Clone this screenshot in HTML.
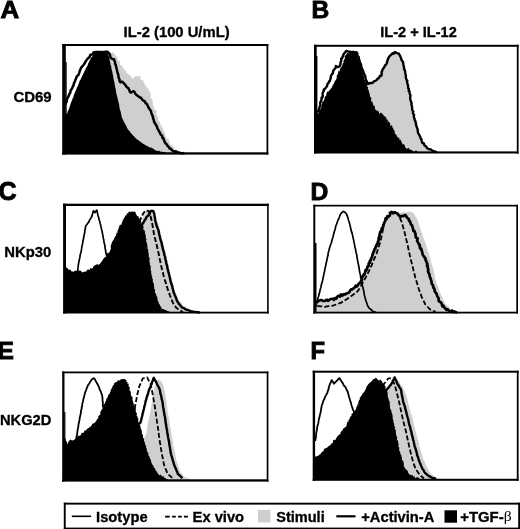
<!DOCTYPE html>
<html><head><meta charset="utf-8"><title>Figure</title>
<style>html,body{margin:0;padding:0;background:#fff;}svg{display:block;}</style></head>
<body>
<svg width="520" height="529" viewBox="0 0 520 529">
<rect width="520" height="529" fill="#fff"/>
<path d="M66.0,115.0 L66.4,114.3 L67.5,113.1 L67.3,112.5 L67.2,111.4 L68.3,111.3 L67.9,108.9 L68.3,109.6 L69.7,106.2 L70.6,108.2 L70.5,106.2 L70.1,103.3 L71.2,102.6 L71.0,102.2 L71.2,102.0 L72.3,102.3 L72.9,100.7 L73.2,99.9 L73.6,97.7 L74.9,99.1 L75.1,97.3 L74.7,94.8 L75.0,93.4 L76.2,93.5 L76.8,92.6 L77.4,93.1 L76.3,90.2 L78.2,90.1 L78.7,88.9 L77.7,88.8 L79.2,86.7 L78.6,86.0 L80.4,86.4 L79.5,83.9 L79.9,82.3 L81.4,81.8 L81.4,81.7 L81.3,81.7 L81.6,80.5 L82.0,78.9 L82.6,77.5 L84.2,78.3 L83.6,77.6 L83.9,75.1 L85.3,75.0 L84.6,75.2 L85.2,71.9 L86.5,71.3 L86.1,69.5 L86.2,70.2 L86.9,69.4 L87.5,68.0 L88.9,67.2 L88.7,67.5 L88.5,64.3 L90.1,65.5 L89.5,62.5 L90.7,64.0 L90.2,63.1 L91.8,61.1 L91.5,58.6 L91.3,60.4 L92.0,58.7 L92.5,58.1 L93.4,55.5 L93.2,56.0 L93.5,53.5 L94.7,54.5 L95.2,51.8 L96.7,51.5 L96.2,51.7 L97.9,51.0 L98.5,51.9 L100.1,51.2 L100.8,53.6 L102.8,52.8 L103.3,52.5 L103.4,50.7 L104.2,53.5 L106.3,53.6 L106.2,52.5 L108.0,52.8 L108.7,53.6 L109.3,52.1 L111.6,53.0 L112.9,52.2 L114.5,53.8 L114.3,54.0 L115.8,55.5 L115.6,56.1 L116.9,56.3 L117.1,56.6 L117.6,58.2 L117.3,59.2 L119.3,61.0 L119.4,60.4 L119.9,62.1 L119.9,63.9 L119.8,64.6 L120.2,65.1 L121.5,64.9 L122.5,66.7 L123.1,69.0 L123.2,67.0 L124.0,70.1 L124.5,69.3 L126.4,71.7 L126.4,73.2 L127.0,73.2 L127.6,73.2 L129.3,75.6 L130.2,74.6 L130.6,75.3 L130.7,76.7 L132.7,78.7 L133.3,79.8 L133.6,76.8 L134.8,76.6 L135.4,76.4 L137.0,76.1 L137.4,76.7 L139.1,76.2 L138.3,75.7 L140.3,76.5 L140.7,79.0 L140.7,80.5 L141.0,79.4 L142.4,79.9 L143.7,81.5 L143.3,81.8 L144.8,84.0 L145.4,85.5 L146.2,87.4 L146.6,85.8 L146.9,86.6 L146.7,88.4 L148.4,88.3 L148.3,89.7 L149.5,91.1 L149.7,92.8 L149.6,93.9 L150.7,92.6 L151.1,95.6 L150.1,95.8 L151.2,98.2 L151.1,98.1 L152.2,99.9 L152.6,99.8 L152.4,100.0 L152.8,103.0 L153.0,103.7 L152.6,105.3 L154.1,106.5 L153.7,106.9 L153.7,108.3 L154.9,107.4 L154.0,108.7 L155.1,110.7 L155.3,109.3 L156.2,110.4 L156.6,111.7 L156.2,114.6 L156.2,113.5 L157.2,116.3 L158.0,117.2 L158.6,117.5 L158.9,117.2 L158.1,119.5 L158.6,121.1 L159.5,121.4 L160.2,122.4 L159.8,122.8 L161.0,125.4 L160.4,126.2 L161.9,126.0 L161.7,125.9 L162.0,127.8 L162.5,127.3 L163.5,129.8 L163.0,131.6 L163.7,131.5 L164.4,131.0 L164.6,133.1 L165.7,135.6 L165.0,135.1 L165.3,135.9 L166.8,138.3 L166.7,137.3 L166.7,139.2 L168.5,138.5 L168.8,139.0 L168.4,140.5 L169.8,141.6 L169.8,143.4 L170.0,144.6 L170.6,144.8 L171.4,144.6 L172.6,146.3 L173.1,147.1 L174.1,147.1 L174.3,149.5 L175.8,150.0 L176.9,151.2 L177.8,150.3 L178.6,152.5 L179.8,151.3 L179.8,153.6 L180.6,154.1 L182.6,151.7 L182.6,153.7 L183.6,151.8 L185.5,152.9 L186.0,153.3 L186.0,153.5 L66.0,153.5 Z" fill="#cfcfcf"/>
<path d="M65.0,113.5 L67.3,113.6 L67.8,112.0 L67.9,111.0 L68.5,110.2 L69.1,108.9 L69.4,107.7 L69.7,106.4 L70.1,105.6 L70.5,104.3 L70.9,103.0 L71.5,101.6 L72.1,100.1 L72.3,99.6 L72.9,97.8 L73.5,97.3 L73.6,95.6 L74.1,94.4 L74.7,93.0 L75.2,91.7 L75.5,91.2 L76.1,89.7 L76.6,88.5 L77.1,87.0 L77.7,86.6 L78.3,85.1 L78.5,83.7 L79.2,82.8 L79.4,81.3 L80.0,80.3 L80.8,79.2 L81.1,78.3 L81.8,76.9 L82.3,75.7 L82.9,74.8 L83.4,73.5 L84.0,72.5 L84.5,71.0 L85.2,70.1 L85.6,68.7 L86.3,67.4 L86.9,66.7 L87.5,65.4 L87.9,64.2 L88.6,62.4 L89.3,61.7 L89.6,60.2 L90.5,59.2 L90.9,57.8 L91.4,57.3 L92.4,56.5 L93.0,54.6 L93.7,54.0 L94.6,52.7 L96.4,51.3 L97.7,51.4 L98.8,51.7 L100.3,51.0 L101.3,51.6 L102.5,51.7 L103.8,51.5 L105.1,51.1 L106.2,51.1 L107.6,51.5 L107.7,52.8 L108.1,53.5 L108.4,55.3 L108.8,56.2 L109.2,57.6 L109.4,58.4 L109.6,60.0 L109.9,60.9 L110.0,61.9 L110.4,63.2 L110.4,64.5 L111.0,65.8 L111.3,67.0 L111.4,68.2 L111.6,69.0 L111.9,70.5 L112.4,72.1 L112.6,73.4 L112.7,74.6 L113.2,75.8 L113.3,77.1 L113.5,78.6 L113.7,79.3 L114.0,81.0 L114.4,82.2 L114.7,83.1 L114.5,84.5 L114.9,85.4 L115.2,86.8 L115.3,88.0 L115.8,88.9 L115.8,90.3 L116.0,91.6 L116.3,93.2 L116.6,94.2 L116.7,95.2 L117.2,96.6 L117.3,97.5 L117.8,99.0 L117.8,99.9 L118.3,101.0 L118.5,102.4 L118.9,103.5 L119.0,104.5 L119.3,105.6 L119.4,106.9 L119.6,107.9 L119.8,109.4 L120.1,110.1 L120.6,111.6 L121.0,113.1 L121.1,114.5 L121.6,115.4 L121.6,116.9 L122.1,118.1 L122.7,119.2 L123.3,120.3 L123.8,121.7 L124.5,122.9 L125.2,123.8 L125.6,125.0 L126.5,126.3 L126.7,127.6 L127.6,128.7 L128.0,129.7 L128.9,130.2 L130.0,131.8 L130.6,132.8 L131.4,133.4 L132.2,134.3 L133.1,135.7 L134.1,136.3 L134.9,137.4 L136.1,138.5 L136.8,139.3 L138.0,139.9 L139.0,140.8 L140.1,141.4 L141.1,142.2 L142.1,142.9 L143.0,143.7 L144.1,144.3 L145.3,145.1 L146.4,145.8 L147.6,146.3 L148.5,146.7 L149.7,147.5 L151.0,147.6 L151.8,148.1 L153.0,148.6 L154.1,149.3 L155.2,150.2 L156.7,150.8 L158.0,151.0 L159.3,150.7 L160.2,151.8 L161.5,151.5 L162.9,152.0 L164.0,152.3 L165.1,152.1 L166.4,152.9 L167.8,152.9 L169.0,152.6 L169.9,153.1 L171.2,153.0 L172.2,152.7 L173.6,153.2 L174.9,153.3 L176.0,153.2 L176.0,153.5 L65.0,153.5 Z" fill="#000"/>
<path d="M65.5,104.5 L65.8,103.2 L66.6,101.9 L66.9,99.5 L67.5,98.0 L68.5,96.4 L69.0,95.0 L69.5,93.8 L70.4,92.5 L70.5,90.6 L71.2,89.8 L72.2,88.2 L72.8,86.6 L73.6,85.0 L73.9,83.4 L74.8,81.5 L75.6,79.4 L76.3,77.9 L77.0,76.0 L78.1,75.4 L78.9,73.7 L79.4,72.3 L79.9,70.7 L80.8,68.5 L81.4,67.4 L82.5,66.1 L83.7,64.7 L84.5,63.6 L85.3,62.0 L86.0,60.8 L86.7,59.9 L88.0,58.3 L89.3,57.4 L90.4,54.8 L92.4,54.4 L93.8,52.2 L95.9,52.1 L97.9,52.0 L99.0,52.1 L100.8,51.9 L102.2,52.2 L104.1,51.9 L105.5,51.8 L107.4,51.7 L109.5,53.8 L110.0,54.9 L110.4,57.0 L110.8,58.0 L112.3,58.9 L114.1,59.2 L114.3,60.5 L114.9,61.6 L115.2,64.3 L115.7,64.9 L116.2,66.8 L116.5,68.2 L117.0,70.1 L117.1,71.0 L117.7,73.3 L118.1,74.2 L118.5,75.4 L118.4,77.2 L119.5,79.3 L119.5,81.0 L120.4,82.2 L122.1,81.6 L123.2,82.7 L124.5,84.0 L125.7,85.3 L126.7,87.2 L128.0,87.8 L129.1,89.5 L129.8,91.5 L130.7,92.6 L132.2,91.8 L133.8,91.2 L134.8,92.5 L135.4,93.9 L136.2,94.7 L137.9,95.9 L139.7,97.4 L140.7,97.5 L142.0,99.2 L143.3,100.7 L144.6,101.0 L145.5,102.9 L147.2,104.5 L147.9,106.2 L148.8,108.1 L149.7,109.3 L150.9,111.0 L151.3,112.6 L151.7,113.7 L152.3,115.7 L153.0,116.4 L153.0,118.5 L153.9,120.1 L154.1,122.3 L154.9,122.8 L155.5,124.3 L156.7,126.0 L157.5,128.6 L158.5,130.1 L158.9,131.2 L159.9,132.6 L160.3,134.0 L160.9,134.7 L162.3,136.2 L162.5,138.0 L163.4,138.3 L163.9,140.0 L164.8,142.2 L165.5,143.4 L166.7,144.2 L167.5,145.9 L168.3,146.4 L169.5,148.4 L170.7,148.6 L171.7,150.1 L173.0,150.8 L174.3,151.7 L175.9,151.3 L177.6,152.1 L179.5,152.6 L180.9,153.2 L182.4,153.2 L184.3,153.1" fill="none" stroke="#000" stroke-width="2.5" stroke-linejoin="round"/>
<rect x="65.5" y="62" width="1.2" height="52" fill="#000"/>
<rect x="62.2" y="44" width="3.60" height="110.60" fill="#000"/>
<rect x="266.5" y="44" width="1.80" height="110.60" fill="#000"/>
<rect x="62.2" y="44" width="206.10" height="2.00" fill="#000"/>
<rect x="62.2" y="152.3" width="206.10" height="2.30" fill="#000"/>
<path d="M317.2,112.0 L318.5,110.8 L319.3,108.9 L319.3,107.9 L320.1,106.0 L320.3,104.0 L320.2,102.7 L321.1,100.7 L321.6,99.5 L321.5,97.6 L322.5,97.2 L322.8,95.5 L322.5,93.6 L323.2,91.7 L324.0,90.6 L323.7,89.8 L324.7,89.0 L326.0,87.4 L327.0,86.3 L327.4,84.1 L328.6,82.9 L329.1,81.3 L329.9,80.9 L330.3,79.2 L330.8,77.6 L331.0,75.7 L332.2,73.8 L332.9,73.3 L333.1,71.0 L334.2,69.5 L335.6,68.0 L335.8,66.0 L338.3,67.1 L340.0,65.9 L340.4,64.6 L340.5,62.7 L341.2,61.0 L341.2,58.6 L342.1,58.3 L342.9,56.3 L343.6,54.0 L344.2,53.6 L346.2,51.0 L348.0,51.4 L350.1,51.7 L351.3,52.3 L353.4,52.1 L355.1,52.2 L356.4,52.1 L357.3,53.3 L357.2,55.7 L358.2,56.5 L358.8,57.2 L358.8,58.9 L359.4,60.1 L359.7,61.7 L360.8,64.1 L361.1,64.6 L361.1,66.7 L361.8,67.7 L361.8,68.2 L362.9,70.5 L363.4,71.5 L363.5,72.8 L364.3,73.7 L364.5,75.0 L365.2,75.8 L365.6,78.7 L365.6,79.4 L366.6,81.1 L367.0,81.5 L367.3,83.9 L368.2,83.9 L369.2,83.2 L370.7,83.0 L372.4,83.0 L374.2,81.1 L375.5,80.8 L376.8,80.0 L377.6,78.6 L378.8,78.1 L380.0,75.8 L381.2,75.8 L381.7,74.1 L381.6,72.0 L382.2,70.9 L382.7,69.2 L383.9,67.8 L385.0,65.4 L386.1,64.5 L386.9,63.0 L387.0,62.0 L387.8,59.8 L387.9,59.0 L388.4,58.2 L389.1,56.8 L390.3,55.5 L391.0,54.9 L392.8,53.2 L393.7,53.8 L394.9,52.0 L396.3,52.8 L397.8,53.3 L398.8,53.6 L399.8,55.3 L400.3,56.5 L400.9,57.5 L401.2,59.1 L402.0,60.8 L403.1,62.1 L403.1,62.8 L403.4,64.8 L404.0,67.1 L403.9,67.9 L404.5,69.8 L405.2,71.4 L405.3,72.9 L405.6,74.5 L405.9,75.7 L405.8,77.6 L406.2,78.6 L406.9,80.7 L407.3,80.6 L407.1,82.6 L407.5,83.8 L408.0,85.2 L408.2,88.1 L408.9,88.8 L408.7,91.0 L409.6,91.3 L409.5,93.4 L410.0,94.2 L410.5,95.7 L410.1,97.9 L410.3,99.0 L410.6,100.3 L410.9,101.3 L411.6,102.9 L411.4,104.5 L411.6,105.2 L412.0,106.7 L412.2,109.2 L412.3,110.3 L413.3,111.5 L412.9,112.6 L413.2,114.1 L414.1,114.9 L413.8,116.8 L414.2,117.9 L414.9,120.3 L415.2,120.6 L415.9,123.2 L416.0,123.4 L416.1,125.5 L416.7,126.7 L417.4,129.0 L417.9,130.5 L417.7,131.4 L418.2,133.3 L419.1,134.4 L419.2,134.7 L420.3,137.0 L420.7,138.3 L421.5,139.5 L421.7,141.0 L422.3,142.9 L423.9,143.3 L424.3,145.3 L425.8,146.1 L426.5,147.2 L427.6,148.5 L429.4,149.4 L430.3,149.1 L432.2,150.5 L433.5,151.3 L435.5,151.7 L437.0,152.3 L437.0,152.5 L317.2,152.5 Z" fill="#cfcfcf"/>
<path d="M317.2,112.0 L318.5,110.8 L319.3,108.9 L319.3,107.9 L320.1,106.0 L320.3,104.0 L320.2,102.7 L321.1,100.7 L321.6,99.5 L321.5,97.6 L322.5,97.2 L322.8,95.5 L322.5,93.6 L323.2,91.7 L324.0,90.6 L323.7,89.8 L324.7,89.0 L326.0,87.4 L327.0,86.3 L327.4,84.1 L328.6,82.9 L329.1,81.3 L329.9,80.9 L330.3,79.2 L330.8,77.6 L331.0,75.7 L332.2,73.8 L332.9,73.3 L333.1,71.0 L334.2,69.5 L335.6,68.0 L335.8,66.0 L338.3,67.1 L340.0,65.9 L340.4,64.6 L340.5,62.7 L341.2,61.0 L341.2,58.6 L342.1,58.3 L342.9,56.3 L343.6,54.0 L344.2,53.6 L346.2,51.0 L348.0,51.4 L350.1,51.7 L351.3,52.3 L351.3,152.5 L317.2,152.5 Z" fill="#fff"/>
<path d="M316.0,113.5 L318.0,112.6 L318.2,114.8 L318.8,111.3 L319.8,110.7 L320.4,109.2 L320.9,108.2 L320.8,108.6 L321.3,107.3 L321.7,103.9 L322.3,104.1 L322.0,101.8 L323.1,101.6 L323.7,101.0 L324.3,99.3 L324.5,98.3 L324.5,98.1 L325.2,96.5 L326.6,95.0 L326.1,94.4 L327.3,91.6 L327.4,91.6 L328.3,91.7 L329.8,89.7 L330.6,89.1 L332.1,87.3 L332.1,86.8 L332.6,85.6 L333.5,84.0 L334.3,83.1 L334.2,83.1 L335.0,80.4 L335.6,80.4 L336.8,78.0 L336.6,75.7 L337.7,74.6 L337.8,73.8 L338.1,72.6 L338.5,70.6 L339.5,71.4 L340.3,68.6 L341.0,67.0 L341.0,67.8 L342.2,65.7 L342.5,64.5 L342.6,63.5 L343.6,62.7 L343.4,61.5 L344.1,59.3 L344.7,59.3 L344.9,58.5 L344.6,56.1 L346.1,54.7 L346.3,54.6 L347.4,52.5 L348.1,53.8 L349.6,51.0 L350.6,50.9 L352.7,50.7 L353.1,50.6 L354.6,51.0 L355.6,52.4 L357.1,54.1 L356.7,54.3 L358.1,54.7 L357.5,57.3 L358.1,59.3 L358.9,59.9 L358.6,60.6 L358.9,61.6 L359.8,63.1 L360.5,65.6 L359.9,66.4 L361.0,66.5 L361.2,67.7 L362.0,68.9 L362.2,72.7 L362.9,72.0 L362.9,73.0 L363.1,76.1 L364.1,75.2 L364.0,78.0 L364.1,79.7 L365.5,80.2 L365.2,82.2 L365.8,81.8 L365.9,82.9 L367.1,85.0 L367.3,87.1 L368.1,86.7 L367.8,89.7 L368.7,89.7 L368.9,90.4 L368.7,91.3 L369.4,93.1 L370.0,96.3 L369.9,96.4 L371.3,97.8 L371.2,99.5 L371.0,101.3 L372.4,102.1 L373.1,101.4 L372.6,102.8 L373.7,105.9 L374.8,105.7 L374.9,107.8 L375.1,109.5 L376.4,110.1 L377.4,111.2 L378.1,110.8 L378.7,111.4 L379.4,114.1 L380.8,112.4 L381.8,113.3 L383.0,114.6 L383.7,115.6 L384.8,116.4 L386.1,117.3 L386.6,119.8 L388.0,119.5 L387.6,122.1 L388.9,121.2 L389.1,122.3 L390.1,123.1 L390.4,126.3 L392.1,125.1 L392.4,127.9 L393.0,127.2 L393.4,129.2 L394.7,130.9 L394.7,132.2 L394.8,133.5 L396.4,134.7 L396.4,134.8 L396.7,135.4 L397.6,137.4 L399.2,137.8 L399.5,139.9 L400.5,139.4 L401.6,141.9 L401.5,142.0 L402.9,144.7 L403.3,144.2 L404.5,144.5 L405.1,147.3 L406.2,147.9 L406.7,148.9 L408.6,147.7 L409.5,149.4 L410.8,149.7 L411.6,150.0 L413.0,151.2 L414.2,152.1 L415.7,150.6 L416.7,150.8 L418.0,152.2 L418.0,152.5 L316.0,152.5 Z" fill="#000"/>
<path d="M317.2,112.0 L318.5,110.8 L319.3,108.9 L319.3,107.9 L320.1,106.0 L320.3,104.0 L320.2,102.7 L321.1,100.7 L321.6,99.5 L321.5,97.6 L322.5,97.2 L322.8,95.5 L322.5,93.6 L323.2,91.7 L324.0,90.6 L323.7,89.8 L324.7,89.0 L326.0,87.4 L327.0,86.3 L327.4,84.1 L328.6,82.9 L329.1,81.3 L329.9,80.9 L330.3,79.2 L330.8,77.6 L331.0,75.7 L332.2,73.8 L332.9,73.3 L333.1,71.0 L334.2,69.5 L335.6,68.0 L335.8,66.0 L338.3,67.1 L340.0,65.9 L340.4,64.6 L340.5,62.7 L341.2,61.0 L341.2,58.6 L342.1,58.3 L342.9,56.3 L343.6,54.0 L344.2,53.6 L346.2,51.0 L348.0,51.4 L350.1,51.7 L351.3,52.3 L353.4,52.1 L355.1,52.2 L356.4,52.1 L357.3,53.3 L357.2,55.7 L358.2,56.5 L358.8,57.2 L358.8,58.9 L359.4,60.1 L359.7,61.7 L360.8,64.1 L361.1,64.6 L361.1,66.7 L361.8,67.7 L361.8,68.2 L362.9,70.5 L363.4,71.5 L363.5,72.8 L364.3,73.7 L364.5,75.0 L365.2,75.8 L365.6,78.7 L365.6,79.4 L366.6,81.1 L367.0,81.5 L367.3,83.9 L368.2,83.9 L369.2,83.2 L370.7,83.0 L372.4,83.0 L374.2,81.1 L375.5,80.8 L376.8,80.0 L377.6,78.6 L378.8,78.1 L380.0,75.8 L381.2,75.8 L381.7,74.1 L381.6,72.0 L382.2,70.9 L382.7,69.2 L383.9,67.8 L385.0,65.4 L386.1,64.5 L386.9,63.0 L387.0,62.0 L387.8,59.8 L387.9,59.0 L388.4,58.2 L389.1,56.8 L390.3,55.5 L391.0,54.9 L392.8,53.2 L393.7,53.8 L394.9,52.0 L396.3,52.8 L397.8,53.3 L398.8,53.6 L399.8,55.3 L400.3,56.5 L400.9,57.5 L401.2,59.1 L402.0,60.8 L403.1,62.1 L403.1,62.8 L403.4,64.8 L404.0,67.1 L403.9,67.9 L404.5,69.8 L405.2,71.4 L405.3,72.9 L405.6,74.5 L405.9,75.7 L405.8,77.6 L406.2,78.6 L406.9,80.7 L407.3,80.6 L407.1,82.6 L407.5,83.8 L408.0,85.2 L408.2,88.1 L408.9,88.8 L408.7,91.0 L409.6,91.3 L409.5,93.4 L410.0,94.2 L410.5,95.7 L410.1,97.9 L410.3,99.0 L410.6,100.3 L410.9,101.3 L411.6,102.9 L411.4,104.5 L411.6,105.2 L412.0,106.7 L412.2,109.2 L412.3,110.3 L413.3,111.5 L412.9,112.6 L413.2,114.1 L414.1,114.9 L413.8,116.8 L414.2,117.9 L414.9,120.3 L415.2,120.6 L415.9,123.2 L416.0,123.4 L416.1,125.5 L416.7,126.7 L417.4,129.0 L417.9,130.5 L417.7,131.4 L418.2,133.3 L419.1,134.4 L419.2,134.7 L420.3,137.0 L420.7,138.3 L421.5,139.5 L421.7,141.0 L422.3,142.9 L423.9,143.3 L424.3,145.3 L425.8,146.1 L426.5,147.2 L427.6,148.5 L429.4,149.4 L430.3,149.1 L432.2,150.5 L433.5,151.3 L435.5,151.7 L437.0,152.3" fill="none" stroke="#000" stroke-width="2.4" stroke-linejoin="round"/>
<rect x="316" y="56" width="1.4" height="58" fill="#000"/>
<rect x="314" y="44.8" width="2.70" height="108.70" fill="#000"/>
<rect x="516.8" y="44.8" width="1.80" height="108.70" fill="#000"/>
<rect x="314" y="44.8" width="204.60" height="2.00" fill="#000"/>
<rect x="314" y="151.4" width="204.60" height="2.10" fill="#000"/>
<path d="M139.0,222.0 L140.1,220.8 L141.5,220.6 L142.0,218.7 L142.7,218.1 L143.3,216.8 L144.2,214.9 L144.7,213.9 L145.4,213.5 L145.9,211.5 L147.0,210.9 L148.2,210.2 L149.8,210.3 L151.2,209.8 L152.7,210.3 L154.3,210.8 L154.4,211.4 L155.0,213.4 L154.9,214.4 L155.7,215.5 L155.7,216.9 L156.3,217.5 L156.6,218.7 L156.6,220.0 L157.1,221.2 L157.6,222.8 L158.2,224.1 L158.5,225.1 L158.5,225.7 L159.1,227.2 L159.4,227.9 L159.5,229.9 L160.1,230.9 L160.2,231.9 L160.9,233.4 L161.3,234.2 L161.3,236.1 L161.7,237.3 L162.0,237.9 L162.1,240.0 L162.5,240.4 L162.9,242.2 L163.5,243.2 L163.6,244.8 L163.8,245.6 L164.3,247.1 L164.4,247.9 L164.7,249.7 L165.3,251.2 L165.7,251.8 L166.0,253.7 L166.1,254.0 L166.4,255.5 L166.6,256.5 L166.8,258.5 L167.0,259.4 L167.3,260.2 L167.9,261.5 L167.9,262.9 L168.4,264.2 L168.7,265.3 L168.8,266.8 L169.0,268.0 L169.3,268.6 L169.4,270.5 L170.0,271.9 L170.3,272.8 L170.4,274.4 L170.7,275.2 L171.0,276.4 L171.4,277.7 L171.9,279.0 L172.0,280.5 L172.5,281.8 L172.5,282.8 L173.3,283.6 L173.3,285.3 L173.7,286.1 L174.3,287.2 L174.3,288.2 L174.7,289.9 L175.1,291.1 L175.3,291.7 L176.1,293.2 L176.6,294.9 L177.0,295.4 L177.5,297.0 L178.1,298.2 L178.6,299.0 L179.5,300.8 L180.2,301.9 L181.0,302.5 L181.9,303.3 L182.5,304.9 L183.2,305.4 L184.1,306.4 L185.2,307.0 L186.5,308.3 L187.6,308.6 L188.8,309.1 L189.8,309.8 L191.1,309.8 L192.3,310.7 L193.4,311.0 L194.5,311.6 L196.1,311.3 L197.5,312.0 L198.3,311.7 L199.7,312.7 L201.0,312.4 L201.0,312.6 L139.0,312.6 Z" fill="#cfcfcf"/>
<path d="M64.0,264.7 L64.1,264.1 L65.1,266.5 L66.0,267.0 L66.4,267.6 L67.9,268.5 L68.8,270.2 L69.0,269.4 L70.7,269.9 L71.3,271.3 L73.5,271.7 L75.0,270.7 L75.5,270.7 L77.7,270.7 L78.2,270.5 L79.3,270.6 L81.0,270.8 L82.2,272.4 L83.4,272.1 L85.2,271.6 L86.2,271.5 L87.4,269.8 L88.2,269.3 L89.4,270.2 L90.6,267.8 L91.8,268.7 L92.9,267.8 L93.7,265.9 L95.4,265.1 L96.1,265.1 L97.2,263.8 L98.1,264.9 L99.8,263.9 L100.5,263.0 L101.9,261.3 L102.5,260.2 L103.2,258.9 L104.6,257.6 L105.6,257.1 L106.2,256.5 L107.1,254.0 L107.5,252.6 L108.1,253.3 L109.4,252.2 L110.4,249.7 L110.9,249.6 L110.7,246.6 L110.8,245.4 L111.2,243.9 L111.8,244.4 L111.6,242.7 L112.7,240.9 L113.8,239.6 L114.4,237.7 L115.3,236.9 L114.8,237.1 L116.0,235.5 L116.5,233.8 L116.4,232.5 L117.7,232.7 L117.4,230.4 L118.2,230.2 L118.3,228.9 L119.1,227.2 L119.6,225.1 L120.9,224.8 L121.6,224.4 L122.0,221.6 L122.4,222.3 L122.9,219.3 L123.1,220.0 L124.5,217.3 L124.6,217.3 L125.5,215.3 L126.7,215.2 L126.9,213.0 L128.1,213.6 L128.8,211.4 L130.4,212.1 L131.4,211.5 L132.9,211.8 L133.7,211.6 L135.1,211.7 L135.7,213.1 L136.5,215.1 L137.3,216.3 L138.4,216.0 L138.5,217.6 L139.5,218.6 L139.8,219.8 L141.0,220.9 L141.2,223.1 L141.9,224.5 L142.9,223.8 L143.0,225.3 L143.6,227.1 L143.2,229.4 L144.2,230.0 L144.3,230.1 L145.0,231.8 L144.9,233.5 L145.2,233.8 L145.9,235.9 L145.7,237.9 L146.4,238.9 L146.6,239.4 L146.0,240.6 L146.7,242.8 L147.1,243.7 L147.2,245.0 L147.3,245.0 L147.5,246.8 L147.3,248.7 L148.2,249.3 L148.2,251.2 L148.4,252.9 L148.6,252.5 L148.7,254.2 L148.7,256.1 L148.6,257.2 L149.5,257.3 L149.6,259.8 L149.3,261.1 L149.1,261.1 L150.2,263.2 L149.6,263.5 L150.1,265.5 L150.8,266.1 L150.7,267.8 L150.8,270.1 L150.6,271.1 L151.4,271.2 L151.0,273.4 L151.9,273.9 L151.4,275.6 L152.2,276.4 L152.2,277.1 L152.2,278.6 L153.0,279.6 L152.7,281.5 L153.0,282.2 L153.8,283.4 L153.9,284.3 L154.1,286.8 L154.3,287.0 L154.1,288.3 L154.8,289.2 L155.0,291.2 L155.0,292.7 L156.2,293.9 L156.1,295.3 L156.9,296.7 L157.3,297.5 L157.6,298.7 L157.3,298.6 L157.8,300.9 L158.0,301.3 L158.4,301.7 L159.2,304.4 L159.6,304.0 L160.5,306.7 L160.9,305.9 L161.3,307.5 L161.9,309.2 L163.3,309.0 L164.7,309.8 L166.1,310.3 L167.4,310.9 L169.0,311.6 L170.0,312.3 L170.0,312.6 L64.0,312.6 Z" fill="#000"/>
<path d="M77.6,271.0 L77.8,269.3 L78.1,267.4 L78.2,266.0 L78.5,263.8 L78.8,262.5 L79.0,261.2 L79.4,259.3 L79.8,257.9 L80.0,256.2 L80.3,254.5 L80.7,253.3 L81.0,251.9 L81.4,250.1 L81.7,248.2 L81.8,247.1 L82.2,245.0 L82.7,243.7 L82.8,241.8 L83.2,240.1 L83.5,238.6 L83.8,236.9 L84.1,235.2 L84.3,234.1 L84.8,232.3 L84.9,230.5 L85.2,229.0 L85.5,227.4 L85.8,225.7 L86.9,224.5 L87.8,223.1 L88.8,222.1 L89.7,219.9 L90.7,218.4 L91.8,216.5 L92.2,215.0 L92.6,213.8 L92.9,212.6 L93.5,210.7 L95.0,212.6 L96.8,210.1 L97.3,212.2 L97.6,213.7 L98.0,215.4 L98.6,217.4 L98.9,218.5 L99.3,220.5 L99.8,221.7 L100.2,223.7 L100.7,225.0 L101.0,226.7 L101.4,228.3 L101.6,229.7 L102.1,231.2 L102.3,232.6 L102.6,234.2 L102.9,235.7 L103.1,236.8 L103.4,238.7 L103.8,240.0 L104.0,241.9 L104.3,243.5 L104.7,244.7 L105.0,246.3 L105.0,247.9 L105.3,249.4 L105.7,250.4 L105.7,251.8 L106.2,253.8 L106.4,254.8 L106.9,256.5" fill="none" stroke="#000" stroke-width="1.7" stroke-linejoin="round"/>
<path d="M141.8,225.0 L142.6,223.8 L143.4,222.7 L144.4,220.8 L145.5,219.3 L146.2,217.5 L147.3,216.3 L148.3,215.4 L149.5,214.3 L150.0,212.2 L150.8,211.0 L153.2,210.9 L153.9,212.5 L154.3,214.0 L154.5,215.4 L154.8,217.2 L155.0,218.5 L155.2,219.9 L155.5,221.7 L156.0,223.3 L156.3,224.4 L156.8,226.4 L157.5,227.6 L158.0,229.1 L158.5,230.4 L158.9,232.5 L159.1,233.7 L159.4,235.1 L159.8,236.6 L160.1,238.1 L160.5,239.8 L161.0,241.1 L161.6,242.7 L161.8,244.6 L162.3,246.2 L162.6,247.6 L162.8,249.0 L163.3,250.2 L163.8,252.0 L164.1,253.3 L164.4,255.2 L164.9,256.2 L165.2,257.6 L165.4,259.4 L166.0,261.2 L166.2,262.6 L166.4,264.1 L167.0,265.2 L167.3,267.3 L167.5,268.7 L168.0,269.8 L168.2,271.6 L168.7,272.9 L169.1,274.7 L169.5,276.2 L169.9,277.6 L170.1,279.1 L170.5,280.6 L170.9,282.2 L171.3,283.8 L172.0,285.3 L172.4,287.3 L172.7,288.5 L173.3,290.7 L173.5,292.1 L174.2,293.5 L174.6,294.7 L175.3,296.4 L175.9,297.6 L176.5,299.4 L176.9,300.8 L177.9,302.2 L179.0,304.0 L180.2,305.1 L181.2,306.7 L182.5,307.8 L183.8,308.0 L184.9,308.9 L186.3,309.6 L187.9,310.0 L190.0,310.8 L191.8,311.5 L193.5,311.8 L195.1,311.9 L196.6,312.1 L198.2,312.3 L200.0,312.6" fill="none" stroke="#000" stroke-width="2.4" stroke-linejoin="round"/>
<path d="M139.2,222.0 L140.3,219.5 L141.8,216.4 L143.3,213.4 L145.9,210.3 L148.6,211.1 L150.5,216.0 L151.5,220.3 L152.4,224.6 L152.9,227.5 L153.4,230.6 L153.9,233.7 L154.6,236.7 L155.4,239.7 L156.1,242.7 L156.9,245.7 L157.6,249.2 L158.5,252.9 L159.2,256.5 L159.9,259.9 L160.7,263.4 L161.4,267.1 L162.2,270.1 L163.0,273.1 L163.7,276.0 L164.8,279.8 L166.0,283.6 L167.7,289.2 L168.9,292.2 L170.0,295.5 L171.5,299.3 L173.1,303.2 L176.2,307.6 L179.2,310.0 L183.0,312.0" fill="none" stroke="#000" stroke-width="1.9" stroke-linejoin="round" stroke-dasharray="5 2.2"/>
<rect x="63.1" y="203.7" width="2.90" height="109.80" fill="#000"/>
<rect x="267.1" y="203.7" width="1.60" height="109.80" fill="#000"/>
<rect x="63.1" y="203.7" width="205.60" height="2.30" fill="#000"/>
<rect x="63.1" y="311.7" width="205.60" height="1.80" fill="#000"/>
<path d="M315.5,303.5 L317.1,301.7 L318.2,302.3 L319.7,301.9 L320.9,301.4 L322.2,301.4 L323.5,301.4 L324.7,300.9 L325.7,300.4 L327.4,300.3 L328.7,300.6 L329.8,300.7 L331.1,300.6 L333.0,299.7 L334.1,299.7 L334.9,299.1 L336.1,298.8 L337.7,298.3 L338.5,296.9 L340.0,296.7 L340.9,296.5 L342.5,295.4 L343.4,295.4 L344.8,295.0 L346.1,294.3 L347.0,293.6 L348.3,293.4 L349.3,292.5 L350.4,291.7 L351.5,290.1 L352.2,288.9 L353.2,288.9 L354.8,288.1 L355.4,287.4 L356.4,287.0 L357.8,286.1 L358.8,285.1 L360.0,285.1 L360.2,283.2 L361.0,282.3 L361.3,280.9 L362.1,279.5 L362.2,278.8 L362.7,277.9 L363.3,276.7 L363.8,275.5 L364.7,274.1 L364.9,272.3 L365.4,271.1 L366.4,269.8 L366.7,269.2 L367.3,267.8 L367.9,267.0 L368.3,266.2 L369.1,264.7 L369.5,263.3 L370.2,262.7 L370.6,260.5 L370.9,260.4 L371.4,258.7 L371.8,257.2 L372.3,256.7 L372.4,255.3 L373.2,253.9 L373.7,253.4 L374.3,251.5 L374.3,251.0 L375.1,249.9 L375.7,248.0 L376.0,246.9 L376.6,246.2 L376.7,244.8 L377.3,243.2 L377.4,242.2 L377.8,241.0 L378.7,240.1 L378.6,238.9 L379.4,237.5 L379.4,236.3 L379.9,235.1 L380.4,233.3 L380.7,232.7 L381.2,231.5 L381.8,229.4 L382.3,228.7 L382.4,227.8 L382.9,225.6 L383.7,225.3 L384.0,223.4 L384.7,222.6 L385.5,221.2 L386.0,220.3 L386.4,218.4 L387.2,217.8 L388.3,216.8 L389.0,215.6 L389.7,214.1 L390.5,213.5 L392.0,212.2 L393.4,211.8 L394.9,211.5 L396.2,211.8 L398.0,211.9 L399.1,212.2 L401.0,212.8 L402.4,212.4 L403.8,212.0 L405.2,212.6 L406.7,212.0 L408.2,212.1 L409.8,211.1 L410.9,212.3 L411.7,212.1 L413.2,213.0 L414.1,214.1 L414.7,214.4 L415.3,215.9 L415.7,217.2 L416.6,217.8 L417.1,219.6 L417.5,220.1 L418.1,221.3 L418.5,223.1 L418.9,223.4 L419.6,225.8 L419.7,226.3 L420.3,227.9 L420.4,229.1 L420.9,230.6 L421.4,231.9 L421.8,232.8 L422.0,233.5 L422.6,234.9 L422.9,236.2 L423.2,237.5 L424.1,239.0 L424.3,240.3 L424.8,241.0 L425.0,241.5 L425.6,243.6 L426.0,244.5 L426.4,246.0 L426.8,246.9 L426.6,248.3 L427.4,248.8 L427.7,249.7 L427.8,251.4 L428.5,251.9 L429.0,254.1 L429.3,254.9 L429.4,256.0 L429.7,257.8 L430.4,259.0 L430.5,259.7 L430.9,260.7 L431.0,262.7 L431.4,263.1 L431.8,264.1 L432.2,265.4 L432.7,266.5 L433.0,267.9 L433.3,269.8 L433.7,270.3 L434.0,271.4 L434.0,272.5 L434.3,273.8 L434.7,276.0 L435.1,276.9 L435.0,278.5 L435.5,279.7 L435.7,280.1 L436.5,281.9 L436.3,282.7 L436.8,283.7 L437.1,284.6 L437.7,286.2 L438.1,287.4 L438.5,288.4 L439.2,289.3 L439.3,290.8 L439.8,292.0 L440.6,293.7 L441.0,294.8 L441.1,295.2 L441.6,296.3 L442.3,297.4 L442.9,299.3 L443.6,300.4 L444.1,301.4 L444.8,302.3 L445.5,303.5 L445.8,304.2 L446.5,305.3 L447.6,305.9 L448.9,306.7 L449.6,307.9 L450.5,309.6 L451.8,310.0 L453.0,311.0 L454.0,310.7 L455.5,311.7 L456.7,312.1 L458.0,312.2 L459.5,312.4 L459.5,312.6 L315.5,312.6 Z" fill="#cfcfcf"/>
<path d="M315.5,307.0 L315.9,305.3 L316.5,303.4 L317.3,301.8 L317.6,299.9 L317.9,298.2 L318.4,296.8 L318.9,295.1 L319.3,293.1 L319.8,291.9 L320.0,290.0 L320.5,288.6 L320.9,287.2 L321.2,285.6 L321.6,283.7 L321.9,282.7 L322.5,280.8 L322.9,279.3 L323.0,277.9 L323.5,276.3 L323.8,274.2 L324.2,273.0 L324.6,271.1 L324.8,269.7 L325.1,268.1 L325.6,266.0 L325.9,264.6 L326.1,263.1 L326.7,261.5 L326.8,259.9 L327.3,258.5 L327.6,256.4 L328.1,255.1 L328.1,253.2 L328.5,251.9 L328.9,250.5 L329.3,248.9 L329.8,247.1 L330.1,246.2 L330.8,244.3 L331.2,243.3 L331.7,241.8 L331.9,240.3 L332.4,238.9 L332.9,237.4 L333.3,235.7 L333.7,234.1 L333.9,233.1 L334.4,231.5 L334.9,229.8 L335.3,228.7 L335.6,227.0 L336.0,225.4 L336.6,224.3 L337.0,222.8 L337.7,221.0 L338.2,219.4 L339.0,218.3 L339.6,216.4 L340.3,214.6 L341.1,213.4 L342.2,212.4 L343.3,211.4 L344.8,212.1 L346.2,213.5 L346.7,214.6 L347.4,216.2 L347.9,217.8 L348.3,219.3 L348.8,221.0 L349.3,222.5 L349.8,224.4 L350.1,225.6 L350.5,227.5 L350.9,229.0 L351.2,230.6 L351.6,231.9 L352.2,233.6 L352.5,235.1 L352.9,236.7 L353.2,238.4 L353.7,240.2 L353.9,241.9 L354.3,243.4 L354.6,244.9 L354.8,246.7 L355.3,248.3 L355.6,249.4 L355.8,251.4 L356.2,253.0 L356.6,254.1 L356.9,255.8 L357.1,257.3 L357.2,258.7 L357.6,260.1 L357.8,261.7 L358.1,263.1 L358.5,264.7 L358.7,266.5 L359.1,267.8 L359.2,269.5 L359.5,270.8 L359.8,272.6 L360.1,273.9 L360.5,275.1 L360.6,277.1 L361.1,278.2 L361.2,280.1 L361.6,281.5 L362.0,282.8 L362.2,284.8 L362.5,286.0 L363.0,288.0 L363.3,289.2 L363.7,290.9 L364.0,292.5 L364.2,294.4 L364.6,295.8 L365.0,297.5 L365.5,299.1 L365.9,300.7 L366.5,302.3 L367.0,303.8 L367.5,305.4 L368.2,306.8 L369.5,308.5 L370.8,309.3 L372.1,310.7 L374.2,311.9 L376.0,312.4" fill="none" stroke="#000" stroke-width="1.7" stroke-linejoin="round"/>
<path d="M315.5,303.0 L317.1,301.7 L319.0,300.8 L319.8,300.3 L321.2,300.0 L322.7,300.8 L325.0,301.0 L325.8,300.2 L327.5,299.9 L328.2,300.8 L330.2,299.2 L331.0,299.0 L333.3,298.8 L334.1,299.9 L334.7,298.2 L336.3,298.6 L337.2,296.7 L338.5,295.7 L340.1,296.6 L341.0,294.5 L342.6,295.5 L343.7,294.2 L345.2,294.4 L346.1,293.8 L347.0,293.2 L348.6,292.8 L349.2,292.2 L350.7,289.8 L351.1,289.3 L352.0,289.5 L353.6,288.2 L355.3,287.0 L355.7,285.7 L357.1,286.3 L358.6,283.9 L359.7,283.1 L360.5,281.9 L360.7,281.6 L361.9,280.2 L361.9,278.9 L362.5,276.3 L363.1,276.3 L364.0,274.0 L364.8,274.1 L364.9,273.2 L365.5,270.2 L366.3,270.6 L367.0,268.8 L367.5,267.1 L367.9,266.1 L368.7,265.9 L368.7,263.2 L370.1,262.7 L369.7,261.0 L370.8,260.6 L370.8,259.3 L372.0,256.8 L372.2,256.6 L372.5,255.0 L373.3,252.4 L373.5,251.8 L373.9,251.6 L374.6,248.9 L375.4,248.2 L375.7,246.5 L376.4,246.3 L376.4,245.1 L377.7,243.4 L377.9,241.5 L378.5,241.0 L378.6,239.1 L378.6,238.4 L379.5,235.8 L379.5,235.6 L379.8,233.5 L380.2,232.0 L380.6,231.4 L381.5,230.4 L381.8,228.0 L382.9,227.6 L383.2,226.3 L383.3,224.7 L383.9,223.6 L385.1,221.0 L385.6,220.0 L385.5,218.7 L386.6,219.0 L387.6,216.3 L388.3,216.8 L389.8,215.4 L390.3,213.2 L391.3,212.0 L393.1,213.3 L394.9,212.2 L396.0,212.9 L397.7,213.9 L398.6,215.4 L399.8,216.0 L400.3,216.9 L402.2,215.8 L403.2,216.2 L405.0,215.1 L405.6,215.0 L406.5,216.9 L407.2,217.7 L409.0,219.2 L409.0,221.0 L409.8,221.0 L410.7,223.3 L410.9,224.6 L411.9,225.1 L412.1,225.7 L412.7,227.6 L413.2,229.8 L413.4,230.9 L414.5,231.1 L414.9,233.0 L415.5,233.5 L415.5,234.9 L415.9,237.6 L416.6,237.8 L417.6,238.4 L417.1,241.1 L418.2,242.5 L418.6,244.0 L418.9,243.8 L420.0,245.7 L419.6,245.9 L420.1,248.6 L421.2,248.7 L421.9,251.3 L422.2,252.1 L422.5,253.6 L423.0,255.4 L423.9,256.2 L424.9,258.2 L425.2,257.8 L425.8,260.8 L426.2,260.8 L426.6,262.2 L427.4,264.2 L426.9,265.6 L427.8,266.1 L427.6,267.5 L428.4,269.7 L428.0,270.8 L428.5,272.8 L429.1,273.8 L429.4,274.3 L429.8,276.7 L430.3,277.9 L430.3,278.1 L431.3,280.7 L431.6,282.4 L431.6,283.2 L432.0,284.2 L433.1,285.2 L433.3,287.6 L433.6,287.4 L434.6,289.5 L434.5,290.0 L434.6,291.0 L436.1,293.2 L436.6,293.9 L437.3,296.2 L438.0,297.2 L438.7,298.7 L438.6,300.7 L439.6,301.9 L440.6,302.0 L441.3,303.0 L441.6,303.5 L442.4,306.4 L443.4,305.7 L444.6,307.8 L446.0,309.2 L446.9,310.1 L447.7,309.3 L449.3,311.1 L450.5,311.7 L452.0,310.4 L453.1,312.0 L454.3,311.4 L456.0,312.2 L457.2,312.6" fill="none" stroke="#000" stroke-width="2.7" stroke-linejoin="round"/>
<path d="M317.2,305.8 L320.8,306.3 L324.5,306.8 L328.6,306.2 L332.8,305.7 L336.9,304.3 L341.1,302.7 L343.8,301.0 L346.7,299.2 L349.4,297.5 L352.1,295.4 L355.0,293.4 L357.7,291.2 L359.3,288.7 L360.8,286.0 L362.4,283.4 L363.9,281.0 L365.5,277.8 L367.1,274.7 L368.7,271.6 L370.2,268.3 L371.5,265.6 L372.7,262.6 L373.9,259.7 L375.2,256.8 L376.4,254.0 L377.4,250.8 L378.4,247.6 L379.5,244.5 L380.5,241.5 L381.1,238.4 L381.7,235.4 L382.3,232.5 L383.0,229.6 L383.6,226.1 L384.3,222.7 L384.9,219.3 L387.2,216.0 L389.5,212.5 L394.0,211.4 L398.6,214.7 L400.3,218.8 L402.0,222.7 L403.0,226.6 L404.0,230.2 L405.0,234.1 L405.6,237.1 L406.4,240.0 L407.1,242.9 L407.8,245.8 L408.4,248.8 L409.1,251.8 L409.7,254.7 L410.5,257.7 L411.1,260.6 L411.8,263.5 L412.7,267.0 L413.5,270.4 L414.4,273.8 L415.2,277.2 L416.4,281.0 L417.5,284.7 L418.6,288.5 L419.7,291.5 L420.9,294.6 L422.0,297.7 L423.7,301.1 L425.4,304.5 L427.7,307.0 L430.0,309.4 L432.8,310.7 L435.6,311.9" fill="none" stroke="#000" stroke-width="1.8" stroke-linejoin="round" stroke-dasharray="5 2.2"/>
<rect x="314.5" y="243" width="2" height="69" fill="#000"/>
<rect x="313.3" y="204.8" width="2.00" height="108.70" fill="#000"/>
<rect x="516.3" y="204.8" width="1.70" height="108.70" fill="#000"/>
<rect x="313.3" y="204.8" width="204.70" height="1.70" fill="#000"/>
<rect x="313.3" y="311.7" width="204.70" height="1.80" fill="#000"/>
<path d="M144.0,438.0 L144.6,436.7 L145.3,435.7 L146.0,434.1 L146.5,432.8 L146.7,431.8 L146.7,430.5 L147.0,429.0 L147.3,427.8 L147.5,427.0 L147.4,425.3 L147.8,424.5 L147.9,423.1 L148.1,422.0 L148.6,420.7 L148.5,419.4 L148.9,418.2 L149.2,417.0 L149.6,415.7 L149.8,414.4 L150.0,412.6 L150.4,411.6 L150.3,410.3 L150.7,408.9 L151.1,407.6 L151.3,406.7 L151.2,405.3 L151.5,403.9 L151.8,403.1 L152.1,402.0 L152.2,400.9 L152.5,399.3 L152.5,398.0 L152.9,397.0 L153.1,395.6 L153.0,394.0 L153.3,392.8 L153.7,391.4 L154.1,389.8 L154.3,388.8 L154.5,387.8 L154.8,386.1 L155.4,384.9 L155.9,383.6 L156.3,382.1 L156.5,380.7 L157.6,380.2 L158.7,379.3 L160.0,380.7 L161.3,381.1 L162.0,382.5 L162.5,383.6 L163.1,384.7 L163.4,386.3 L163.9,387.4 L164.1,388.9 L164.4,390.2 L164.9,391.4 L164.9,392.7 L165.1,393.5 L165.3,395.0 L165.6,396.2 L165.7,397.5 L165.8,398.7 L165.9,399.5 L166.4,400.8 L166.5,401.9 L166.8,403.4 L166.7,404.6 L167.2,406.2 L167.0,407.6 L167.2,408.4 L167.6,409.9 L167.6,411.1 L167.8,412.3 L168.3,413.4 L168.1,414.7 L168.4,415.9 L168.7,416.7 L168.8,418.3 L169.2,419.5 L169.3,420.9 L169.3,422.2 L169.7,423.3 L169.7,424.4 L170.0,425.4 L170.4,427.1 L170.5,427.8 L170.9,429.0 L170.9,430.6 L171.2,431.9 L171.4,433.1 L171.7,434.5 L171.7,435.8 L172.1,436.8 L172.0,437.7 L172.5,439.0 L172.7,440.3 L172.7,441.5 L173.1,442.7 L173.2,444.5 L173.4,445.1 L173.5,447.0 L173.8,447.6 L174.2,449.4 L174.4,450.1 L174.6,451.6 L175.1,452.5 L175.3,454.2 L175.5,455.2 L175.6,456.5 L176.0,457.9 L176.1,458.7 L176.3,460.2 L176.6,461.4 L177.2,462.5 L177.5,464.3 L178.1,464.9 L178.5,466.7 L178.9,468.1 L179.5,469.2 L179.6,470.2 L180.2,471.3 L180.9,472.7 L181.8,473.7 L182.5,474.3 L183.2,475.4 L184.1,476.0 L184.6,477.5 L186.2,477.5 L187.7,478.3 L189.0,478.5 L190.4,478.9 L190.4,480.4 L144.0,480.4 Z" fill="#cfcfcf"/>
<path d="M64.0,439.0 L65.5,438.1 L65.7,440.2 L66.4,441.3 L66.8,442.0 L67.3,443.7 L67.0,444.8 L68.0,443.1 L68.4,442.0 L68.7,441.3 L69.4,440.4 L70.6,439.6 L72.0,440.4 L73.3,440.3 L74.4,439.5 L76.0,439.1 L76.2,438.0 L77.6,436.4 L78.2,435.4 L79.9,435.9 L81.1,434.4 L81.6,432.8 L83.4,433.1 L84.1,431.4 L84.6,430.6 L85.5,430.5 L86.6,429.5 L87.6,428.6 L88.8,428.1 L89.1,427.6 L90.8,426.4 L91.3,425.7 L92.5,423.4 L93.5,423.6 L94.8,422.8 L95.7,421.4 L96.4,420.4 L97.0,419.5 L98.4,417.7 L98.2,416.0 L99.2,415.2 L100.0,415.0 L100.3,413.9 L100.4,412.3 L100.7,411.3 L101.9,409.3 L102.3,409.8 L102.5,406.9 L103.0,406.8 L103.3,405.4 L104.1,404.0 L105.3,403.1 L105.2,401.5 L106.0,401.1 L106.6,398.6 L107.3,397.4 L107.6,397.4 L108.2,395.1 L109.3,394.0 L109.7,393.6 L110.0,392.2 L110.5,391.4 L111.1,389.2 L111.6,388.5 L112.5,386.7 L112.5,387.3 L112.7,385.7 L114.1,384.4 L113.8,383.7 L115.2,382.6 L117.0,381.7 L117.6,380.8 L118.7,380.1 L120.0,380.8 L120.3,379.4 L122.0,379.2 L122.7,378.9 L124.4,379.1 L126.0,380.1 L126.6,379.6 L126.2,381.6 L127.4,382.0 L127.6,384.1 L128.8,383.6 L128.5,386.3 L129.1,386.5 L130.0,388.1 L129.4,389.6 L130.1,391.3 L130.8,391.5 L130.8,394.4 L131.2,395.7 L132.0,396.7 L132.1,396.6 L132.7,398.2 L132.4,399.8 L133.0,401.5 L133.3,403.0 L133.9,403.7 L133.8,404.9 L134.4,406.4 L134.5,407.7 L135.3,407.6 L135.8,409.5 L135.7,410.4 L136.0,412.5 L136.8,413.1 L136.8,414.3 L136.7,416.3 L137.4,415.8 L137.5,417.6 L138.4,418.5 L138.1,421.2 L138.6,422.4 L138.7,422.0 L139.2,423.8 L139.9,424.9 L140.7,427.3 L140.6,428.6 L141.3,429.8 L141.3,429.3 L141.7,430.3 L141.9,433.4 L142.2,434.0 L143.1,435.3 L142.9,436.1 L143.0,437.9 L143.8,438.1 L144.0,440.4 L143.9,440.4 L144.9,442.7 L145.1,443.6 L144.9,444.7 L145.8,444.9 L146.1,446.5 L146.3,448.8 L147.1,448.5 L146.7,450.9 L147.9,452.1 L147.6,453.6 L148.7,453.4 L148.3,455.3 L149.4,456.6 L149.6,457.0 L149.8,458.0 L150.6,459.6 L151.1,461.1 L151.4,462.9 L151.8,463.4 L152.6,464.9 L153.7,466.1 L153.4,467.1 L154.5,467.9 L154.6,467.7 L155.2,469.0 L156.0,471.2 L157.2,471.6 L157.3,472.7 L157.8,473.4 L159.3,475.3 L160.8,474.4 L162.1,476.7 L163.3,475.7 L164.2,477.9 L165.1,477.8 L166.6,479.2 L167.7,478.9 L167.7,480.4 L64.0,480.4 Z" fill="#000"/>
<path d="M76.0,440.0 L76.4,437.8 L76.6,436.2 L77.1,434.5 L77.2,433.2 L77.5,431.1 L77.5,430.4 L78.0,428.3 L78.3,426.7 L78.4,425.4 L78.6,423.7 L79.0,422.6 L79.2,421.1 L79.7,419.1 L79.7,417.6 L80.2,416.3 L80.4,414.7 L80.8,413.6 L80.9,412.1 L81.1,410.2 L81.7,408.6 L81.7,407.0 L82.2,406.1 L82.2,404.3 L82.7,402.6 L83.0,401.2 L83.2,400.1 L83.6,398.3 L84.1,396.9 L84.4,395.2 L84.9,393.4 L85.2,392.0 L86.0,390.6 L86.5,388.8 L87.0,387.7 L87.6,386.1 L88.3,384.6 L89.1,383.8 L90.0,382.1 L90.6,381.1 L92.3,379.0 L93.7,378.2 L94.8,379.2 L95.8,381.1 L96.6,382.6 L97.6,384.2 L98.2,385.7 L99.1,387.4 L99.7,389.5 L100.4,390.8 L100.9,391.9 L101.6,394.0 L102.0,394.8 L102.3,396.7 L102.5,398.4 L102.5,399.8 L102.7,401.4 L102.9,402.9 L102.8,405.1 L103.0,407.0" fill="none" stroke="#000" stroke-width="1.8" stroke-linejoin="round"/>
<path d="M139.0,424.0 L140.5,422.6 L140.8,421.3 L141.3,419.7 L141.5,418.3 L141.9,417.0 L142.4,415.3 L142.5,414.0 L143.1,412.2 L143.4,410.6 L143.9,409.0 L144.1,407.9 L144.5,405.9 L144.9,404.8 L145.3,402.8 L145.6,401.4 L145.9,400.3 L146.5,398.3 L146.7,397.3 L147.3,395.5 L147.8,394.4 L148.2,392.7 L148.6,391.2 L149.2,389.7 L149.8,388.3 L150.5,386.8 L150.8,385.7 L151.6,384.2 L152.0,382.3 L152.8,380.6 L153.2,379.3 L153.8,377.8 L154.5,379.5 L155.3,380.6 L156.0,381.9 L156.9,383.7 L157.6,385.3 L158.3,386.4 L159.0,387.8 L159.7,389.5 L160.1,391.1 L160.2,392.6 L160.6,394.2 L161.1,395.6 L161.4,397.0 L161.6,398.8 L162.1,400.1 L162.4,401.8 L162.6,402.9 L162.9,404.4 L162.9,405.9 L163.2,407.8 L163.6,408.9 L163.7,410.8 L164.0,412.0 L164.4,413.6 L164.4,415.2 L164.9,416.4 L165.1,418.0 L165.4,419.7 L165.5,421.2 L165.6,422.5 L166.0,424.3 L166.2,425.6 L166.5,427.6 L166.6,428.9 L167.1,430.2 L167.2,431.9 L167.4,433.1 L167.7,435.1 L168.0,436.6 L168.2,438.0 L168.5,439.3 L168.9,441.2 L169.2,442.6 L169.2,444.0 L169.6,445.3 L169.8,446.9 L170.1,448.7 L170.4,449.9 L170.4,451.4 L170.8,452.8 L171.2,454.8 L171.6,456.2 L172.2,457.8 L172.5,459.6 L173.1,461.1 L173.5,462.5 L173.9,464.2 L174.6,465.9 L175.1,467.3 L176.0,469.0 L176.5,470.4 L177.3,472.2 L177.8,473.8 L179.0,474.8 L180.1,475.8 L181.4,477.2 L182.4,478.0" fill="none" stroke="#000" stroke-width="2.4" stroke-linejoin="round"/>
<path d="M134.5,409.1 L135.2,405.6 L135.9,402.0 L136.5,398.8 L137.0,395.5 L137.8,392.6 L138.5,389.4 L139.3,386.4 L141.0,382.4 L142.7,378.5 L147.2,377.3 L148.9,380.8 L150.7,384.3 L151.4,387.9 L152.2,391.8 L152.9,395.6 L153.5,398.9 L154.1,402.2 L154.7,405.7 L155.2,409.0 L155.7,412.3 L156.1,415.5 L156.6,418.6 L157.0,421.9 L157.5,425.0 L158.0,428.1 L158.4,431.4 L158.8,434.6 L159.3,437.7 L159.7,440.8 L160.3,444.3 L160.8,447.7 L161.4,451.1 L162.0,454.6 L162.8,458.3 L163.5,462.2 L164.3,465.9 L166.0,469.9 L167.7,473.9 L170.0,475.9 L172.2,478.0" fill="none" stroke="#000" stroke-width="1.8" stroke-linejoin="round" stroke-dasharray="5 2.2"/>
<rect x="64.2" y="412" width="1.2" height="30" fill="#000"/>
<rect x="62.2" y="371.5" width="2.30" height="110.10" fill="#000"/>
<rect x="266.7" y="371.5" width="1.70" height="110.10" fill="#000"/>
<rect x="62.2" y="371.5" width="206.20" height="1.80" fill="#000"/>
<rect x="62.2" y="479.3" width="206.20" height="2.30" fill="#000"/>
<path d="M385.0,388.0 L386.0,387.4 L387.2,386.5 L387.9,386.2 L388.9,385.0 L389.8,384.1 L390.5,383.5 L391.8,382.7 L392.4,381.2 L393.1,379.8 L394.0,378.8 L394.6,378.3 L396.7,378.8 L397.6,379.6 L398.3,380.1 L399.1,381.2 L399.7,382.1 L400.3,383.4 L401.0,384.4 L402.2,386.1 L402.5,386.4 L403.0,387.5 L403.4,389.2 L404.2,389.8 L404.6,391.3 L405.1,392.2 L405.6,393.3 L406.3,395.0 L406.6,396.1 L407.0,397.3 L407.0,398.5 L407.6,399.6 L407.9,401.6 L408.2,402.4 L408.3,404.0 L408.8,405.2 L408.8,406.3 L409.4,407.1 L409.5,408.9 L410.0,409.7 L410.3,410.8 L410.5,411.8 L411.0,413.1 L411.5,415.1 L411.7,415.4 L412.1,416.7 L412.3,417.9 L412.7,419.1 L412.9,420.4 L413.4,422.3 L413.7,423.4 L414.1,424.4 L414.1,425.2 L414.5,426.9 L414.9,428.6 L415.1,429.0 L415.6,430.8 L415.7,431.7 L416.2,433.5 L416.6,434.8 L416.8,436.1 L417.1,436.7 L417.3,438.5 L417.9,439.5 L418.3,440.8 L418.3,442.1 L419.0,442.8 L419.3,444.3 L419.2,445.7 L419.8,446.9 L420.0,448.5 L420.3,449.6 L420.8,450.9 L421.3,451.8 L421.5,453.7 L422.0,454.4 L422.5,456.2 L422.6,457.2 L423.1,458.6 L423.5,459.8 L424.2,460.7 L424.7,461.6 L425.1,462.6 L425.5,464.2 L426.1,465.1 L426.6,466.7 L427.1,467.1 L427.7,468.3 L428.5,469.8 L429.0,470.9 L429.7,471.5 L430.6,472.4 L430.9,473.7 L431.9,474.5 L433.2,475.3 L434.4,476.1 L435.4,477.5 L436.4,477.8 L437.4,478.4 L438.8,478.3 L440.0,479.0 L440.0,479.8 L385.0,479.8 Z" fill="#cfcfcf"/>
<path d="M314.0,456.9 L316.8,456.2 L317.9,455.5 L318.4,456.1 L319.3,454.4 L320.1,454.5 L321.9,451.9 L321.8,451.7 L323.1,451.6 L323.7,450.3 L324.4,448.6 L325.1,448.5 L326.7,448.0 L328.1,446.6 L328.5,446.2 L330.2,445.2 L330.5,444.7 L331.6,443.4 L331.8,443.5 L333.0,442.2 L333.1,440.5 L333.9,439.7 L335.5,440.1 L336.2,437.8 L336.7,438.1 L337.4,436.2 L338.6,435.2 L339.2,434.4 L340.5,433.9 L340.6,431.9 L341.8,431.1 L342.5,430.3 L342.9,429.5 L343.7,427.9 L344.1,428.0 L344.6,427.7 L346.0,426.6 L346.6,425.5 L346.8,424.2 L347.3,421.4 L348.5,422.2 L348.4,420.0 L349.0,419.7 L349.6,418.8 L350.1,416.8 L351.5,416.0 L351.5,414.0 L352.8,413.1 L353.1,413.2 L353.8,411.0 L355.0,411.5 L355.5,409.1 L355.9,409.8 L356.4,407.0 L357.3,406.0 L357.4,404.4 L358.2,404.3 L358.3,402.7 L358.6,401.4 L359.3,399.3 L360.0,399.9 L359.7,397.4 L361.0,396.8 L360.8,396.4 L362.2,394.6 L362.3,393.9 L363.0,392.9 L364.1,392.3 L364.8,390.8 L365.4,389.8 L366.0,388.5 L366.8,386.0 L367.0,386.3 L368.1,384.4 L369.2,383.3 L370.2,382.5 L371.3,381.5 L372.2,380.7 L372.8,379.4 L373.4,379.0 L374.6,379.0 L375.5,377.8 L376.7,378.3 L377.5,379.5 L379.3,380.4 L380.4,379.2 L381.4,381.1 L382.3,381.5 L382.6,383.2 L383.2,383.4 L384.1,384.1 L384.8,385.7 L385.6,386.3 L385.4,387.6 L385.6,388.9 L386.4,389.5 L387.1,390.7 L387.8,393.8 L387.9,393.4 L387.6,394.4 L387.9,397.5 L388.8,398.8 L388.6,399.4 L389.2,401.0 L389.4,400.9 L390.0,403.4 L389.5,404.0 L390.3,406.6 L389.8,406.2 L390.1,408.4 L390.9,409.5 L390.8,410.3 L391.8,411.3 L391.3,412.3 L392.2,413.6 L392.4,415.6 L392.8,415.6 L392.5,418.8 L393.0,418.1 L392.8,419.5 L393.7,421.0 L393.3,422.1 L394.3,424.3 L394.2,424.5 L394.1,425.4 L395.2,427.7 L394.5,429.3 L395.8,429.7 L396.0,430.7 L395.6,432.1 L396.1,433.2 L396.0,433.8 L396.4,436.1 L397.2,437.6 L397.1,438.2 L397.0,440.0 L397.9,440.5 L398.1,442.8 L398.0,442.2 L398.8,444.5 L398.2,445.9 L399.0,447.2 L399.4,448.2 L399.0,450.2 L400.0,451.4 L400.2,452.3 L400.4,453.6 L400.3,454.0 L401.4,455.3 L401.4,456.5 L402.0,457.2 L401.8,458.3 L402.0,460.3 L403.4,460.9 L403.5,463.4 L404.0,463.0 L403.7,465.7 L404.4,467.0 L405.3,468.6 L405.7,469.3 L406.1,469.2 L407.1,470.5 L407.9,471.3 L408.2,472.8 L409.3,474.6 L410.4,474.4 L411.1,475.6 L412.8,474.8 L413.2,476.9 L414.2,476.1 L415.6,478.6 L416.9,477.1 L418.8,477.7 L420.0,479.0 L420.0,479.8 L314.0,479.8 Z" fill="#000"/>
<path d="M315.2,441.0 L315.7,438.0 L316.1,436.4 L316.0,434.8 L316.3,432.8 L316.5,431.4 L317.0,429.7 L317.0,428.1 L317.5,426.3 L317.7,425.0 L318.2,423.7 L318.5,422.1 L318.6,420.5 L319.0,419.1 L319.4,417.3 L319.8,415.7 L320.0,414.4 L320.5,412.8 L320.7,411.8 L321.0,410.3 L321.2,408.5 L321.5,407.0 L321.8,405.3 L322.3,404.2 L322.9,402.4 L323.4,400.5 L324.3,399.2 L324.8,397.4 L325.8,395.6 L326.4,394.4 L327.3,393.0 L327.7,391.3 L328.3,390.0 L328.7,388.3 L328.9,387.0 L329.5,385.2 L330.2,383.5 L330.9,382.1 L331.6,380.1 L332.9,381.9 L334.0,383.8 L335.4,382.1 L336.7,381.0 L337.9,379.7 L339.3,378.0 L340.1,379.1 L340.9,380.6 L341.8,381.7 L342.8,383.2 L343.4,384.7 L344.3,386.0 L345.2,386.7 L346.1,388.6 L347.0,390.4 L347.8,392.0 L348.2,393.8 L348.7,395.2 L348.9,396.5 L349.5,398.2 L350.0,399.9 L350.4,401.2 L350.9,402.8 L351.3,404.5 L351.8,406.1 L352.4,407.7 L352.8,409.3 L353.7,411.0 L354.5,412.8 L355.0,413.5" fill="none" stroke="#000" stroke-width="1.8" stroke-linejoin="round"/>
<path d="M386.0,390.5 L387.5,388.8 L388.5,387.7 L389.4,386.4 L390.6,385.0 L391.7,383.3 L392.5,382.1 L393.0,380.7 L393.9,379.0 L394.6,377.4 L395.2,378.7 L396.0,380.4 L396.8,382.3 L397.5,384.2 L398.6,385.3 L399.2,387.0 L400.2,388.2 L400.9,389.6 L401.3,391.1 L401.4,393.0 L401.8,394.3 L402.1,396.4 L402.5,397.6 L402.8,399.4 L403.1,401.5 L403.4,402.8 L403.9,404.0 L404.5,405.7 L405.0,406.8 L405.2,408.9 L405.7,409.9 L406.1,411.7 L406.5,412.8 L406.8,414.9 L407.2,416.0 L407.7,417.8 L408.3,419.6 L408.5,421.0 L408.8,422.4 L409.1,424.2 L409.7,425.7 L410.2,427.4 L410.6,428.8 L410.7,430.1 L411.3,431.6 L411.6,433.3 L411.9,434.9 L412.5,436.8 L412.8,438.1 L413.1,439.9 L413.7,441.3 L413.9,442.7 L414.2,444.1 L414.6,446.1 L415.1,447.5 L415.6,448.9 L416.1,450.7 L416.4,451.6 L416.9,453.4 L417.1,455.0 L417.8,456.7 L418.2,457.7 L418.5,459.1 L419.3,461.2 L419.8,462.7 L420.4,463.9 L421.0,465.7 L421.8,467.3 L422.4,468.8 L423.5,470.0 L424.2,471.6 L425.0,472.9 L425.9,473.7 L427.3,474.9 L428.5,475.9 L429.7,476.3 L431.0,477.2 L432.8,478.2 L434.3,478.1 L436.0,479.0" fill="none" stroke="#000" stroke-width="2.4" stroke-linejoin="round"/>
<path d="M382.5,386.0 L384.3,383.5 L386.4,380.9 L388.5,378.3 L391.5,378.5 L393.1,381.4 L394.7,384.5 L395.8,388.7 L396.8,392.7 L397.6,396.0 L398.4,399.1 L399.1,402.1 L399.9,405.3 L400.6,409.0 L401.5,412.6 L402.2,416.3 L403.0,420.0 L403.8,423.1 L404.6,426.1 L405.4,429.2 L406.2,432.4 L406.9,436.0 L407.7,439.7 L408.5,443.2 L409.3,446.9 L410.1,450.0 L410.8,453.1 L411.6,456.2 L412.4,459.3 L413.4,462.5 L414.4,465.6 L415.5,468.8 L417.6,471.7 L419.7,474.9 L424.0,478.5" fill="none" stroke="#000" stroke-width="1.8" stroke-linejoin="round" stroke-dasharray="5 2.2"/>
<rect x="312.7" y="370.7" width="2.40" height="110.10" fill="#000"/>
<rect x="516.8" y="370.7" width="1.80" height="110.10" fill="#000"/>
<rect x="312.7" y="370.7" width="205.90" height="2.00" fill="#000"/>
<rect x="312.7" y="478.8" width="205.90" height="2.00" fill="#000"/>
<rect x="63.8" y="502.7" width="1.90" height="26.30" fill="#000"/>
<rect x="518.2" y="502.7" width="1.80" height="26.30" fill="#000"/>
<rect x="63.8" y="502.7" width="456.20" height="1.90" fill="#000"/>
<rect x="63.8" y="527.6" width="456.20" height="1.40" fill="#000"/>
<rect x="71.8" y="515.5" width="19.3" height="1.6" fill="#000"/>
<rect x="165.1" y="515.75" width="4.70" height="1.8" fill="#000"/>
<rect x="172.1" y="515.75" width="3.70" height="1.8" fill="#000"/>
<rect x="178.1" y="515.75" width="3.70" height="1.8" fill="#000"/>
<rect x="183.9" y="515.75" width="4.00" height="1.8" fill="#000"/>
<rect x="257.9" y="509.9" width="12.6" height="12.5" fill="#cfcfcf"/>
<rect x="336.3" y="515.2" width="19.2" height="2.2" fill="#000"/>
<rect x="444.5" y="510.3" width="12.5" height="12.4" fill="#000"/>
<text x="0.5" y="17.7" font-size="24.6" font-family="Liberation Sans, Arial, Helvetica, sans-serif" font-weight="bold" textLength="18.7" lengthAdjust="spacingAndGlyphs" stroke="#000" stroke-width="0.9">A</text>
<text x="311.6" y="17.9" font-size="24.6" font-family="Liberation Sans, Arial, Helvetica, sans-serif" font-weight="bold" stroke="#000" stroke-width="0.9">B</text>
<text x="-1.5" y="199.9" font-size="25" font-family="Liberation Sans, Arial, Helvetica, sans-serif" font-weight="bold" stroke="#000" stroke-width="0.9">C</text>
<text x="310.4" y="199.8" font-size="24.6" font-family="Liberation Sans, Arial, Helvetica, sans-serif" font-weight="bold" stroke="#000" stroke-width="0.9">D</text>
<text x="-2.4" y="359.4" font-size="24.6" font-family="Liberation Sans, Arial, Helvetica, sans-serif" font-weight="bold" stroke="#000" stroke-width="0.9">E</text>
<text x="310.5" y="359.2" font-size="24.6" font-family="Liberation Sans, Arial, Helvetica, sans-serif" font-weight="bold" textLength="14.5" lengthAdjust="spacingAndGlyphs" stroke="#000" stroke-width="0.9">F</text>
<text x="123.6" y="36.8" font-size="14" font-family="Liberation Sans, Arial, Helvetica, sans-serif" font-weight="bold" textLength="106" lengthAdjust="spacingAndGlyphs" stroke="#000" stroke-width="0.3">IL-2 (100 U/mL)</text>
<text x="380.3" y="37.0" font-size="14" font-family="Liberation Sans, Arial, Helvetica, sans-serif" font-weight="bold" textLength="76.5" lengthAdjust="spacingAndGlyphs" stroke="#000" stroke-width="0.3">IL-2 + IL-12</text>
<text x="13.4" y="101.9" font-size="14" font-family="Liberation Sans, Arial, Helvetica, sans-serif" font-weight="bold" textLength="38.3" lengthAdjust="spacingAndGlyphs" stroke="#000" stroke-width="0.3">CD69</text>
<text x="4.3" y="256.8" font-size="14" font-family="Liberation Sans, Arial, Helvetica, sans-serif" font-weight="bold" textLength="47" lengthAdjust="spacingAndGlyphs" stroke="#000" stroke-width="0.3">NKp30</text>
<text x="-0.1" y="425.3" font-size="14" font-family="Liberation Sans, Arial, Helvetica, sans-serif" font-weight="bold" textLength="51.5" lengthAdjust="spacingAndGlyphs" stroke="#000" stroke-width="0.3">NKG2D</text>
<text x="96.1" y="521.5" font-size="14" font-family="Liberation Sans, Arial, Helvetica, sans-serif" font-weight="bold" textLength="51.5" lengthAdjust="spacingAndGlyphs" stroke="#000" stroke-width="0.3">Isotype</text>
<text x="192.6" y="521.5" font-size="14" font-family="Liberation Sans, Arial, Helvetica, sans-serif" font-weight="bold" textLength="51.5" lengthAdjust="spacingAndGlyphs" stroke="#000" stroke-width="0.3">Ex vivo</text>
<text x="276.2" y="521.5" font-size="14" font-family="Liberation Sans, Arial, Helvetica, sans-serif" font-weight="bold" textLength="48.5" lengthAdjust="spacingAndGlyphs" stroke="#000" stroke-width="0.3">Stimuli</text>
<text x="361.3" y="521.5" font-size="14" font-family="Liberation Sans, Arial, Helvetica, sans-serif" font-weight="bold" textLength="73" lengthAdjust="spacingAndGlyphs" stroke="#000" stroke-width="0.3">+Activin-A</text>
<text x="460.2" y="521.5" font-size="14" font-family="Liberation Sans, Arial, Helvetica, sans-serif" font-weight="bold" textLength="43.5" lengthAdjust="spacingAndGlyphs" stroke="#000" stroke-width="0.3">+TGF-</text>
<text x="503.8" y="521.3" font-size="15.6" font-family="Liberation Serif, DejaVu Serif, serif">β</text>
</svg>
</body></html>
